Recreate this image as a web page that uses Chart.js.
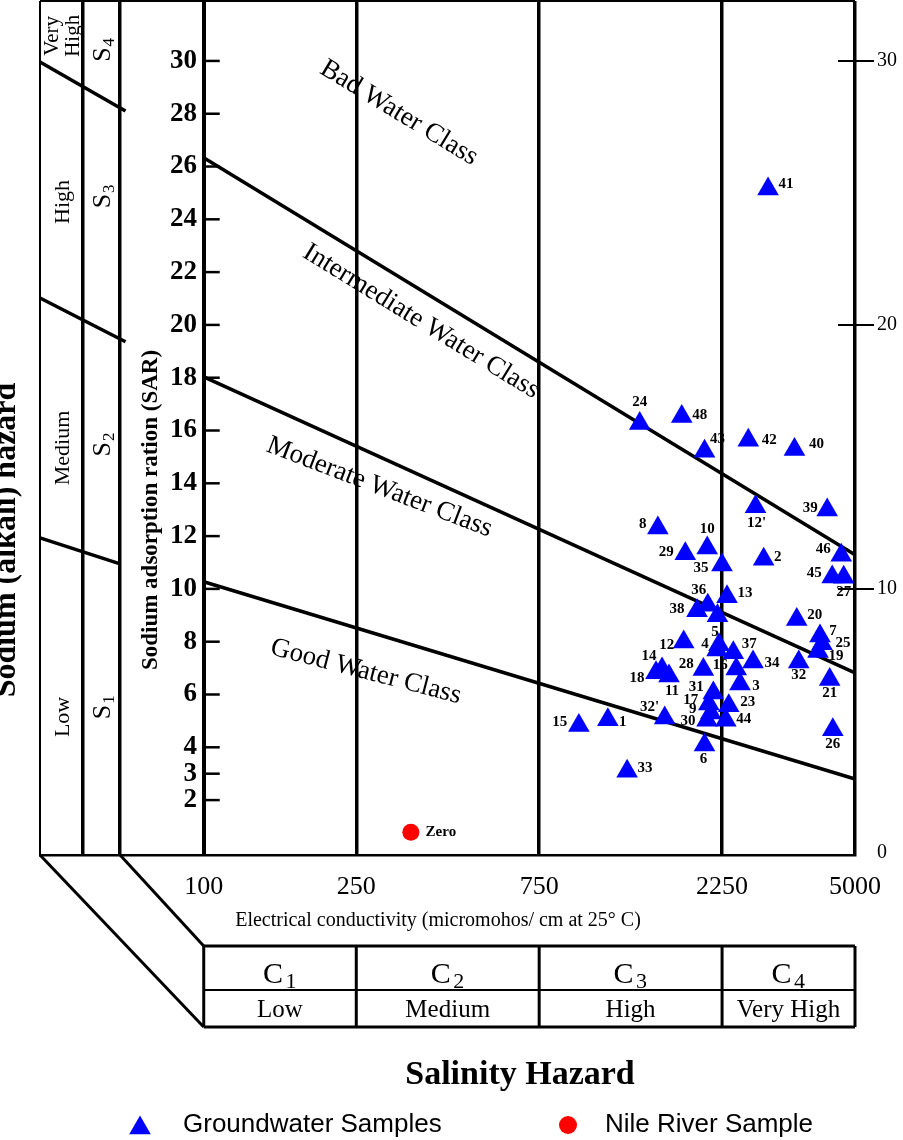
<!DOCTYPE html>
<html>
<head>
<meta charset="utf-8">
<script src="https://cdn.jsdelivr.net/npm/chart.js@4.4.1/dist/chart.umd.min.js"></script>
<style>
  html, body { margin: 0; padding: 0; background: #fff; }
  #wrap { width: 903px; height: 1140px; position: relative; }
</style>
</head>
<body>
<div id="wrap"><canvas id="wilcox"></canvas></div>
<script>
// Wilcox / USSL irrigation water diagram (EC vs SAR)

// axis ticks
const ecTicks = [100, 250, 750, 2250, 5000];
const sarTicks = [2, 3, 4, 6, 8, 10, 12, 14, 16, 18, 20, 22, 24, 26, 28, 30];
const sarTicksRight = [0, 10, 20, 30];
const hazardColumnEC = [48.4, 60.5];   // dividers of the sodium hazard columns

const salinityClasses = ['C', 'C', 'C', 'C'];
const salinitySubs = ['1', '2', '3', '4'];
const salinityNames = ['Low', 'Medium', 'High', 'Very High'];
const sodiumSubs = ['1', '2', '3', '4'];
const sodiumNames = ['Low', 'Medium', 'High', 'Very\nHigh'];
const waterClasses = ['Good Water Class', 'Moderate Water Class', 'Intermediate Water Class', 'Bad Water Class'];

// groundwater samples
const sampleIds = ['41', '24', '48', '43', '42', '40', "12'", '39', '8', '10',
  '29', '35', '2', '46', '45', '27', '13', '36', '38', '',
  '20', '7', '25', '19', '32', '21', '26', '12', '5', '4',
  '37', '34', '16', '28', '14', '18', '11', '3', '31', '17',
  '23', '9', '30', '44', "32'", '1', '15', '6', '33'];
const sampleEC = [2966, 1372, 1766, 2025, 2634, 3476, 2751, 4231, 1530, 2058,
  1804, 2249, 2889, 4603, 4360, 4672, 2318, 2065, 1936, 2189,
  3523, 4052, 4101, 4004, 3566, 4295, 4376, 1787, 2209, 2183,
  2407, 2710, 2450, 2011, 1569, 1513, 1636, 2506, 2135, 2078,
  2342, 2103, 2056, 2301, 1594, 1133, 952, 2025, 1272];
const sampleSAR = [25.15, 16.27, 16.53, 15.21, 15.63, 15.28, 13.11, 12.99, 12.31, 11.55,
  11.33, 10.91, 11.12, 11.27, 10.45, 10.44, 9.70, 9.38, 9.17, 8.98,
  8.84, 8.22, 7.92, 7.63, 7.23, 6.57, 4.66, 7.99, 7.88, 7.69,
  7.58, 7.23, 6.97, 6.95, 6.97, 6.82, 6.70, 6.40, 6.06, 5.64,
  5.57, 5.30, 5.02, 5.02, 5.11, 5.04, 4.83, 4.09, 3.09];

// Nile river sample
const nileIds = ['Zero'];
const nileEC = [347];
const nileSAR = [0.78];

// class boundaries (straight on log EC / linear SAR)
const boundaryEC = [100, 5000];
const boundaryS1S2 = [10.27, 2.80];
const boundaryS2S3 = [18.03, 6.82];
const boundaryS3S4 = [26.33, 11.29];
const stubEC = [37.4, 62.5];
const stubLowEC = [37.4, 60.5];
const stubS1S2 = [11.93, 10.95];
const stubS2S3 = [21.02, 19.36];
const stubS3S4 = [29.96, 28.10];

const pairs = (xs, ys) => xs.map((x, i) => ({ x: x, y: ys[i] }));

// label offsets (px) from each marker
const labelOffset = {
  '41': [18, -5], '24': [0, -21], '48': [18, -1], '43': [13, -12], '42': [21, 0],
  '40': [22, -5], "12'": [1, 16], '39': [-17, -2], '8': [-15, -4], '10': [0, -19],
  '29': [-19, -2], '35': [-21, 3], '2': [14, -2], '46': [-18, -6], '45': [-18, -4],
  '27': [0, 15], '13': [18, -4], '36': [-9, -15], '38': [-20, -2], '20': [18, -4],
  '7': [13, -5], '25': [21, -1], '19': [18, 5], '32': [0, 13], '21': [0, 14],
  '26': [0, 14], '12': [-17, 3], '5': [-4, -13], '4': [-12, -6], '37': [16, -9],
  '34': [19, 1], '16': [-16, -4], '28': [-17, -5], '14': [-13, -13], '18': [-19, 5],
  '11': [3, 15], '3': [16, 2], '31': [-17, -6], '17': [-18, -4], '23': [19, -4],
  '9': [-18, -4], '30': [-19, 1], '44': [18, -1], "32'": [-15, -11], '1': [15, 2],
  '15': [-19, -3], '6': [-1, 14], '33': [18, -3], 'Zero': [30, 0]
};

const SERIF = '"Liberation Serif", "Times New Roman", serif';
const SANS = '"Liberation Sans", Arial, sans-serif';

const lineBase = {
  type: 'line', showLine: true, borderColor: '#000', borderWidth: 3.5,
  pointRadius: 0, fill: false, order: 2, clip: false
};

function seg(ctx, x1, y1, x2, y2) {
  ctx.beginPath();
  ctx.moveTo(x1, y1);
  ctx.lineTo(x2, y2);
  ctx.stroke();
}

// rotated (bottom-to-top) text, optional subscript
function vText(ctx, txt, sub, cx, cy, font, subFont, baseline) {
  ctx.save();
  ctx.translate(cx, cy);
  ctx.rotate(-Math.PI / 2);
  ctx.font = font;
  const w = ctx.measureText(txt).width;
  let sw = 0;
  if (sub) { ctx.font = subFont; sw = ctx.measureText(sub).width; }
  const start = -(w + sw) / 2;
  ctx.font = font;
  ctx.textAlign = 'left';
  ctx.textBaseline = baseline || 'middle';
  ctx.fillText(txt, start, 0);
  if (sub) {
    ctx.font = subFont;
    ctx.fillText(sub, start + w + 1, 6);
  }
  ctx.restore();
}

const noPad = s => { s.paddingTop = 0; s.paddingBottom = 0; };

const diagramPlugin = {
  id: 'diagram',
  afterDatasetsDraw(chart) {
    const { ctx, chartArea: a, scales } = chart;
    const x = scales.x, y = scales.y;
    ctx.save();
    ctx.strokeStyle = '#000';
    ctx.fillStyle = '#000';

    // top and left frame
    ctx.lineWidth = 2;
    seg(ctx, a.left, a.top, a.right, a.top);
    seg(ctx, a.left, a.top, a.left, a.bottom + 1);

    // SAR tick marks on the inner axis
    const x0 = x.getPixelForValue(ecTicks[0]);
    ctx.lineWidth = 2.5;
    sarTicks.forEach(v => {
      const py = y.getPixelForValue(v);
      seg(ctx, x0, py, x0 + 16, py);
    });
    ctx.lineWidth = 2;
    sarTicksRight.forEach(v => {
      if (v === 0) return;
      const py = y.getPixelForValue(v);
      seg(ctx, a.right - 17, py, a.right + 19, py);
    });

    // water class names along the boundaries
    const classPos = [
      { ec: 262, sar: 6.6, ang: 14.6 },
      { ec: 283, sar: 13.6, ang: 21 },
      { ec: 361, sar: 19.9, ang: 31.6 },
      { ec: 316, sar: 27.8, ang: 31.3 }
    ];
    ctx.font = '27px ' + SERIF;
    ctx.textAlign = 'center';
    ctx.textBaseline = 'alphabetic';
    waterClasses.forEach((t, i) => {
      const p = classPos[i];
      ctx.save();
      ctx.translate(x.getPixelForValue(p.ec), y.getPixelForValue(p.sar));
      ctx.rotate(p.ang * Math.PI / 180);
      ctx.fillText(t, 0, 0);
      ctx.restore();
    });

    // sodium hazard columns
    const colA = (a.left + x.getPixelForValue(hazardColumnEC[0])) / 2 + 2;
    const colB = (x.getPixelForValue(hazardColumnEC[0]) + x.getPixelForValue(hazardColumnEC[1])) / 2 + 2;
    const nameSar = [5.15, 15.34, 24.66, 30.95];
    const symSar = [5.5, 15.45, 24.85, 30.4];
    sodiumNames.forEach((n, i) => {
      const py = y.getPixelForValue(nameSar[i]);
      const parts = n.split('\n');
      if (parts.length === 2) {
        vText(ctx, parts[0], '', colA - 11, py, '21px ' + SERIF);
        vText(ctx, parts[1], '', colA + 10, py, '21px ' + SERIF);
      } else {
        vText(ctx, n, '', colA, py, '22px ' + SERIF);
      }
      vText(ctx, 'S', sodiumSubs[i], colB, y.getPixelForValue(symSar[i]), '26px ' + SERIF, '17px ' + SERIF);
    });

    // axis titles
    vText(ctx, 'Sodium (alkali) hazard', '', 15, 540, 'bold 32px ' + SERIF, '', 'alphabetic');
    vText(ctx, 'Sodium adsorption ration (SAR)', '', 157, 510, 'bold 23px ' + SERIF, '', 'alphabetic');

    ctx.font = '20px ' + SERIF;
    ctx.textAlign = 'center';
    ctx.textBaseline = 'middle';
    ctx.fillText('Electrical conductivity (micromohos/ cm at 25\u00B0 C)', 438, 921);

    // salinity hazard table
    const colX = ecTicks.map(v => x.getPixelForValue(v));
    const tTop = 946, tMid = 990, tBot = 1027;
    ctx.lineWidth = 3;
    seg(ctx, colX[0], tTop, colX[4], tTop);
    seg(ctx, colX[0], tBot, colX[4], tBot);
    ctx.lineWidth = 2;
    seg(ctx, colX[0], tMid, colX[4], tMid);
    ctx.lineWidth = 3;
    colX.forEach(cx => seg(ctx, cx, tTop, cx, tBot));
    // slanted connectors
    seg(ctx, a.left, a.bottom, colX[0], tBot);
    seg(ctx, x.getPixelForValue(hazardColumnEC[1]), a.bottom, colX[0], tTop);

    for (let i = 0; i < 4; i++) {
      const cx = (colX[i] + colX[i + 1]) / 2 - 3;
      ctx.font = '30px ' + SERIF;
      ctx.textAlign = 'center';
      ctx.textBaseline = 'alphabetic';
      const cw = ctx.measureText(salinityClasses[i]).width;
      ctx.fillText(salinityClasses[i], cx - 4, 983);
      ctx.font = '22px ' + SERIF;
      ctx.fillText(salinitySubs[i], cx + cw / 2 + 4, 988);
      ctx.font = '25px ' + SERIF;
      ctx.textBaseline = 'middle';
      ctx.fillText(salinityNames[i], cx + 3, 1010);
    }

    ctx.font = 'bold 34px ' + SERIF;
    ctx.textAlign = 'center';
    ctx.textBaseline = 'middle';
    ctx.fillText('Salinity Hazard', 520, 1075);

    // sample labels
    ctx.font = 'bold 15px ' + SERIF;
    ctx.textAlign = 'center';
    ctx.textBaseline = 'middle';
    [[0, sampleIds], [1, nileIds]].forEach(([di, ids]) => {
      const meta = chart.getDatasetMeta(di);
      meta.data.forEach((el, i) => {
        const id = ids[i];
        if (!id) return;
        const off = labelOffset[id] || [14, 0];
        ctx.fillText(id, el.x + off[0], el.y + off[1]);
      });
    });

    // legend
    const legend = [
      { ds: chart.data.datasets[0], x: 140, tx: 183 },
      { ds: chart.data.datasets[1], x: 568, tx: 605 }
    ];
    legend.forEach(l => {
      ctx.fillStyle = l.ds.backgroundColor;
      Chart.helpers.drawPoint(ctx, {
        pointStyle: l.ds.pointStyle, radius: l.ds.pointStyle === 'triangle' ? 12.5 : 9,
        borderWidth: 0, rotation: 0
      }, l.x, l.ds.pointStyle === 'triangle' ? 1128 : 1125);
      ctx.fillStyle = '#000';
      ctx.font = '26px ' + SANS;
      ctx.textAlign = 'left';
      ctx.textBaseline = 'middle';
      ctx.fillText(l.ds.label, l.tx, 1125);
    });

    ctx.restore();
  }
};

new Chart(document.getElementById('wilcox'), {
  type: 'scatter',
  data: {
    datasets: [
      {
        label: 'Groundwater Samples', data: pairs(sampleEC, sampleSAR),
        pointStyle: 'triangle', pointRadius: 12.5, backgroundColor: '#0000ff',
        borderColor: '#0000ff', borderWidth: 0, order: 0, clip: false
      },
      {
        label: 'Nile River Sample', data: pairs(nileEC, nileSAR),
        pointStyle: 'circle', pointRadius: 8.5, backgroundColor: '#ff0000',
        borderColor: '#ff0000', borderWidth: 0, order: 0
      },
      { ...lineBase, label: 'S1/S2', data: pairs(boundaryEC, boundaryS1S2) },
      { ...lineBase, label: 'S2/S3', data: pairs(boundaryEC, boundaryS2S3) },
      { ...lineBase, label: 'S3/S4', data: pairs(boundaryEC, boundaryS3S4) },
      { ...lineBase, label: 'stub1', data: pairs(stubLowEC, stubS1S2) },
      { ...lineBase, label: 'stub2', data: pairs(stubEC, stubS2S3) },
      { ...lineBase, label: 'stub3', data: pairs(stubEC, stubS3S4) }
    ]
  },
  options: {
    responsive: true,
    maintainAspectRatio: false,
    animation: false,
    events: [],
    layout: { autoPadding: false, padding: { left: 40, top: 1, right: 0, bottom: 245 } },
    plugins: { legend: { display: false }, tooltip: { enabled: false } },
    scales: {
      x: {
        type: 'logarithmic',
        min: 37.4,
        max: 5000,
        afterBuildTicks: s => {
          s.ticks = hazardColumnEC.concat(ecTicks).map(v => ({ value: v }));
        },
        afterFit: s => { s.height = 40; s.paddingLeft = 0; },
        ticks: {
          autoSkip: false, maxRotation: 0, padding: 17,
          color: '#000', font: { family: SERIF, size: 26 },
          callback: v => (ecTicks.includes(v) ? String(v) : '')
        },
        grid: {
          color: '#000', drawTicks: false,
          lineWidth: c => (c.tick && c.tick.value === 100 ? 4 : 3.5)
        },
        border: { display: true, color: '#000', width: 2.5 }
      },
      y: {
        type: 'linear',
        position: { x: 96 },
        min: -0.08,
        max: 32.27,
        afterBuildTicks: s => { s.ticks = sarTicks.map(v => ({ value: v })); },
        afterFit: noPad,
        ticks: {
          autoSkip: false, color: '#000',
          font: { family: SERIF, size: 27, weight: 'bold' }
        },
        grid: { display: false, drawTicks: false },
        border: { display: false }
      },
      y2: {
        type: 'linear',
        position: 'right',
        min: -0.08,
        max: 32.27,
        afterBuildTicks: s => { s.ticks = sarTicksRight.map(v => ({ value: v })); },
        afterFit: s => { s.width = 48; noPad(s); },
        ticks: {
          autoSkip: false, color: '#000', padding: 22,
          font: { family: SERIF, size: 20 }
        },
        grid: { display: false, drawTicks: false },
        border: { display: false }
      }
    }
  },
  plugins: [diagramPlugin]
});
</script>
</body>
</html>
